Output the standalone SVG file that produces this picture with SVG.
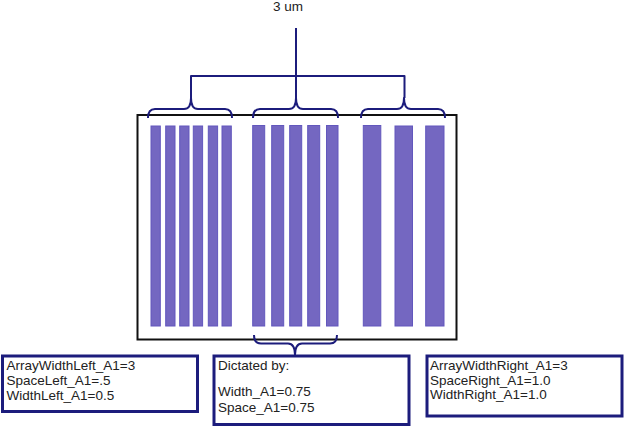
<svg xmlns="http://www.w3.org/2000/svg" width="624" height="426" viewBox="0 0 624 426">
<style>
.bar{fill:#7467c1;stroke:#6257bd;stroke-width:1}
.br{fill:none;stroke:#1c1c7c;stroke-width:2;stroke-linejoin:round}
.box{fill:#fff;stroke:#1c1c7c;stroke-width:3}
.t{font-family:"Liberation Sans",Arial,sans-serif;font-size:13.5px;fill:#222}
</style>
<rect width="624" height="426" fill="#fff"/>
<text class="t" x="273" y="11" fill="#333" font-size="13">3 um</text>
<g id="array">
<rect x="137.5" y="115" width="319" height="224.5" fill="none" stroke="#111" stroke-width="2"/>
<g id="left-bars">
<rect class="bar" x="151" y="126" width="9.3" height="200"/>
<rect class="bar" x="165.7" y="126" width="9.3" height="200"/>
<rect class="bar" x="179.7" y="126" width="9.3" height="200"/>
<rect class="bar" x="193.3" y="126" width="9.3" height="200"/>
<rect class="bar" x="208.3" y="126" width="9.3" height="200"/>
<rect class="bar" x="222" y="126" width="9.3" height="200"/>
</g>
<g id="mid-bars">
<rect class="bar" x="252.7" y="125.5" width="12" height="200.5"/>
<rect class="bar" x="271.7" y="125.5" width="12" height="200.5"/>
<rect class="bar" x="289.7" y="125.5" width="12" height="200.5"/>
<rect class="bar" x="307.7" y="125.5" width="12" height="200.5"/>
<rect class="bar" x="326.5" y="125.5" width="11.5" height="200.5"/>
</g>
<g id="right-bars">
<rect class="bar" x="363.3" y="125.5" width="17.5" height="200.5"/>
<rect class="bar" x="395" y="126" width="17.5" height="200"/>
<rect class="bar" x="425.7" y="126" width="18.3" height="200"/>
</g>
</g>
<g id="connectors">
<path class="br" d="M148,118 Q148,109 155,109 L184,109 Q191,109 191,98 Q191,109 198,109 L225,109 Q232,109 232,118"/>
<path class="br" d="M253,118 Q253,109 260,109 L289,109 Q296,109 296,98 Q296,109 303,109 L331,109 Q338,109 338,118"/>
<path class="br" d="M361,118 Q361,109 368,109 L397,109 Q404,109 404,98 Q404,109 411,109 L438,109 Q445,109 445,118"/>
<path class="br" d="M296,28 V98 M191,98 V76 H404.5 V98"/>
<path class="br" d="M254,335 Q254,343.5 261,343.5 L288,343.5 Q295,343.5 295,355 Q295,343.5 302,343.5 L330,343.5 Q337,343.5 337,335"/>
</g>
<g id="box-left">
<rect class="box" x="2.5" y="356" width="195" height="55.5"/>
<text class="t" x="6.5" y="370">ArrayWidthLeft_A1=3</text>
<text class="t" x="6.5" y="385">SpaceLeft_A1=.5</text>
<text class="t" x="6.5" y="400">WidthLeft_A1=0.5</text>
</g>
<g id="box-mid">
<rect class="box" x="214" y="356" width="195" height="68.5"/>
<text class="t" x="218" y="369.5">Dictated by:</text>
<text class="t" x="218" y="396">Width_A1=0.75</text>
<text class="t" x="218" y="412">Space_A1=0.75</text>
</g>
<g id="box-right">
<rect class="box" x="427" y="356" width="195" height="60"/>
<text class="t" x="430" y="369.5">ArrayWidthRight_A1=3</text>
<text class="t" x="430" y="384.5">SpaceRight_A1=1.0</text>
<text class="t" x="430" y="399">WidthRight_A1=1.0</text>
</g>
</svg>
